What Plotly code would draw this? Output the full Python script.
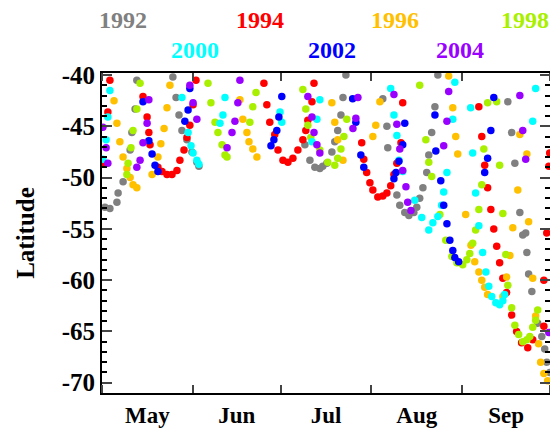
import plotly.graph_objects as go
import pandas as pd

years = ["1992", "1994", "1996", "1998", "2000", "2002", "2004"]
colors = ["#808080", "#FF0000", "#FFC000", "#A8F000", "#00FFFF", "#0000FF", "#9900FF"]

doy_1992 = [122.0,123.7,126.1,126.5,128.2,130.6,131.2,132.3,132.9,145.2,146.3,147.3,148.3,150.0,151.7,153.4,154.1,
            190.3,192.0,193.7,195.4,196.4,197.8,199.5,200.5,201.5,202.6,203.3,204.3,
            216.9,218.3,218.6,221.7,222.7,224.4,225.8,227.5,228.5,229.5,230.6,231.9,232.6,233.6,234.7,235.7,
            259.6,260.9,262.0,263.7,264.7,265.7,266.1,266.7,267.8,269.8,271.2,272.2,272.9,273.9]
lat_1992 = [-52.9,-53.0,-52.4,-51.5,-50.4,-47.3,-45.6,-43.3,-40.5,-40.2,-42.2,-43.9,-45.4,-46.3,-47.5,-48.5,-48.9,
            -46.8,-48.3,-49.0,-49.1,-48.9,-48.6,-47.5,-46.5,-45.4,-43.9,-42.2,-40.0,
            -42.3,-45.0,-47.1,-51.7,-52.7,-53.4,-53.7,-53.4,-52.9,-52.0,-51.0,-49.5,-47.8,-45.6,-43.1,-40.0,
            -42.6,-45.6,-48.6,-53.4,-55.6,-55.4,-57.3,-59.4,-61.1,-64.2,-65.5,-66.7,-68.0,-69.0]

doy_1994 = [121.3,123.0,123.7,135.0,136.4,137.0,137.4,140.1,141.5,143.2,144.9,146.6,147.6,149.0,150.0,151.0,152.1,153.1,
            176.3,177.3,178.3,180.0,181.1,182.8,184.5,186.2,187.9,189.6,190.6,191.3,192.7,193.4,
            209.7,210.4,211.4,212.5,213.5,215.2,216.9,218.3,219.6,220.7,221.7,223.1,223.7,
            249.7,250.7,251.7,252.7,253.8,254.8,255.8,256.8,257.9,259.2,260.9,262.6,264.3,266.4,268.1,
            271.9,271.9,272.9,273.6,273.9]
lat_1994 = [-48.6,-43.6,-40.5,-42.1,-44.1,-45.6,-46.8,-49.0,-49.4,-49.7,-49.7,-49.3,-48.3,-47.3,-46.1,-44.9,-42.9,-40.5,
            -40.8,-42.9,-44.6,-45.8,-47.3,-48.3,-48.5,-48.1,-47.3,-46.3,-45.4,-44.4,-42.6,-40.8,
            -46.6,-48.2,-49.5,-50.5,-51.2,-51.9,-51.8,-51.5,-50.8,-49.7,-48.6,-46.6,-42.7,
            -43.1,-46.0,-48.8,-51.0,-53.1,-55.0,-56.7,-58.3,-59.8,-61.2,-63.4,-65.0,-66.1,-66.6,-65.8,
            -64.5,-60.0,-55.4,-48.9,-47.6]

doy_1996 = [125.1,126.1,127.1,128.2,129.5,130.6,131.6,132.9,138.1,140.1,141.1,142.2,143.2,144.2,
            168.1,169.1,170.5,171.2,172.5,173.9,
            199.5,200.5,201.5,203.3,213.5,214.5,215.9,
            239.4,240.8,241.8,242.5,245.2,247.0,248.3,249.7,250.7,251.7,252.7,
            257.9,259.2,260.3,261.3,263.0,263.7,266.1,266.7,268.1,269.1,270.1,270.8,271.9,273.2]
lat_1996 = [-42.5,-44.7,-46.5,-48.0,-49.1,-50.0,-50.7,-51.0,-49.7,-48.0,-46.7,-45.2,-43.2,-41.0,
            -42.4,-44.3,-45.6,-46.5,-47.2,-48.0,
            -42.7,-44.6,-46.3,-48.3,-46.0,-44.9,-42.6,
            -40.1,-43.2,-46.0,-47.7,-53.6,-56.6,-58.2,-59.2,-60.0,-60.7,-61.4,
            -61.6,-59.7,-57.6,-54.9,-51.2,-45.8,-47.7,-54.3,-59.8,-63.5,-66.2,-68.0,-69.1,-69.8]

doy_1998 = [129.5,129.9,130.9,131.6,132.9,134.0,
            157.2,158.2,159.6,160.6,162.0,163.0,163.7,171.5,172.5,173.6,
            189.6,190.6,191.3,192.3,195.4,198.1,200.5,201.5,202.6,203.6,204.6,
            229.5,231.6,232.6,233.6,236.4,238.4,240.5,242.2,244.2,245.6,246.6,247.6,248.6,249.7,250.7,251.4,252.7,
            255.8,256.8,257.9,258.9,259.6,260.9,262.0,263.3,264.7,266.1,267.1,268.1,269.1,269.8]
lat_1998 = [-49.7,-48.6,-47.1,-45.4,-43.3,-40.8,
            -40.8,-42.7,-44.6,-45.6,-46.8,-47.8,-48.0,-44.6,-43.1,-41.7,
            -41.4,-43.3,-44.9,-46.1,-47.3,-48.5,-48.8,-48.1,-47.2,-46.0,-44.3,
            -41.0,-46.3,-48.5,-49.9,-53.6,-56.1,-57.7,-58.3,-58.5,-58.0,-57.4,-56.4,-55.1,-53.1,-50.7,-47.2,-42.7,
            -42.6,-48.8,-53.5,-57.5,-60.5,-62.7,-64.4,-65.3,-66.0,-65.8,-65.5,-64.6,-63.9,-62.9]

doy_2000 = [121.3,122.4,123.0,123.7,148.3,150.4,151.4,152.1,153.4,154.1,161.3,162.3,163.0,181.8,182.4,
            192.7,194.4,195.4,219.6,220.7,221.7,222.4,223.7,227.8,230.2,232.6,234.0,235.7,237.0,237.7,238.8,240.8,241.5,
            246.9,247.6,248.6,249.7,251.0,252.1,253.1,254.1,255.5,256.8,257.9,258.5,268.1,269.1]
lat_2000 = [-48.2,-46.3,-44.1,-41.5,-42.2,-45.6,-46.9,-47.6,-48.3,-48.7,-44.7,-43.9,-42.2,-43.6,-44.6,
            -46.5,-44.3,-42.4,-41.3,-43.9,-45.9,-48.3,-49.4,-52.2,-53.9,-55.1,-54.4,-53.8,-52.7,-51.4,-49.5,-44.3,-40.7,
            -43.2,-47.6,-51.5,-54.7,-57.3,-59.2,-60.6,-61.6,-62.2,-62.4,-62.0,-61.4,-44.5,-41.3]

doy_2002 = [135.0,137.0,138.1,139.1,140.1,149.3,150.4,151.0,178.7,179.7,180.7,181.4,182.4,
            206.6,207.7,209.4,210.4,220.7,221.4,222.4,223.7,224.4,
            234.7,235.0,236.7,237.7,238.8,239.8,240.8,241.5,242.8,251.7,252.7,253.8,254.8]
lat_2002 = [-42.6,-46.4,-47.7,-48.8,-49.4,-44.5,-43.4,-41.3,-46.9,-46.3,-45.4,-44.1,-42.1,
            -42.3,-44.6,-47.8,-49.0,-50.1,-49.5,-48.4,-46.8,-44.7,
            -43.9,-47.4,-50.3,-52.7,-54.5,-56.1,-57.1,-57.8,-58.2,-49.5,-48.1,-45.4,-42.2]

doy_2004 = [121.3,122.4,123.0,132.9,134.0,135.0,136.4,137.0,151.0,152.1,153.4,163.7,165.4,166.4,167.4,168.1,
            191.3,192.7,193.4,194.4,195.4,206.7,207.7,208.4,
            220.7,221.7,222.7,223.7,224.8,225.4,226.5,237.7,238.8,239.4,263.7,264.7,265.7,273.6]
lat_2004 = [-45.1,-47.1,-48.6,-49.0,-48.3,-46.6,-44.7,-42.4,-41.0,-42.7,-44.3,-47.1,-45.6,-44.5,-42.7,-40.5,
            -42.1,-44.1,-45.6,-46.8,-47.6,-45.2,-44.2,-42.2,
            -41.9,-44.8,-47.2,-49.3,-50.9,-52.4,-53.2,-46.9,-44.5,-41.6,-42.0,-45.4,-48.2,-65.1]

doys = [doy_1992, doy_1994, doy_1996, doy_1998, doy_2000, doy_2002, doy_2004]
lats = [lat_1992, lat_1994, lat_1996, lat_1998, lat_2000, lat_2002, lat_2004]

base = pd.Timestamp("2001-01-01")
def to_date(d):
    return [base + pd.Timedelta(days=v - 1) for v in d]

fig = go.Figure()
for y, c, d, l in zip(years, colors, doys, lats):
    fig.add_trace(go.Scatter(x=to_date(d), y=l, mode="markers", name=y,
                             marker=dict(color=c, size=7.5, line=dict(width=0)),
                             cliponaxis=True))

serif = "Liberation Serif"
label_pos = [(0.047, 1.12), (0.353, 1.12), (0.654, 1.12), (0.944, 1.12),
             (0.208, 1.025), (0.513, 1.025), (0.80, 1.025)]
for y, c, (px, py) in zip(years, colors, label_pos):
    fig.add_annotation(text=y, x=px, y=py, xref="paper", yref="paper",
                       showarrow=False, xanchor="center", yanchor="bottom",
                       font=dict(family=serif, size=24, color=c, weight="bold"))

fig.update_layout(
    width=550, height=426, showlegend=False,
    plot_bgcolor="white", paper_bgcolor="white",
    margin=dict(l=94, r=8, t=65, b=41, autoexpand=False),
    font=dict(family=serif, color="black"),
)
fig.update_xaxes(
    type="date", range=["2001-05-01", "2001-10-01"], automargin=False,
    dtick="M1", tick0="2001-05-01", tickformat="%b", ticklabelmode="period",
    ticks="inside", ticklen=8, tickwidth=2, showgrid=False, zeroline=False,
    showline=True, linewidth=2, linecolor="black", mirror="ticks",
    tickfont=dict(family=serif, size=23, color="black", weight="bold"),
)
fig.update_yaxes(
    range=[-71.0, -39.8], automargin=False, tickvals=[-40, -45, -50, -55, -60, -65, -70],
    ticktext=["-40", "-45", "-50", "-55", "-60", "-65", "-70"],
    ticks="inside", ticklen=10, tickwidth=2, showgrid=False, zeroline=False,
    showline=True, linewidth=2, linecolor="black", mirror="ticks",
    minor=dict(dtick=1, ticks="inside", ticklen=5, tickwidth=1.5, tickcolor="black"),
    tickfont=dict(family=serif, size=25, color="black", weight="bold"),
    title=dict(text="Latitude", font=dict(family=serif, size=25, color="black", weight="bold"), standoff=20),
)
fig.write_html("out.html")
